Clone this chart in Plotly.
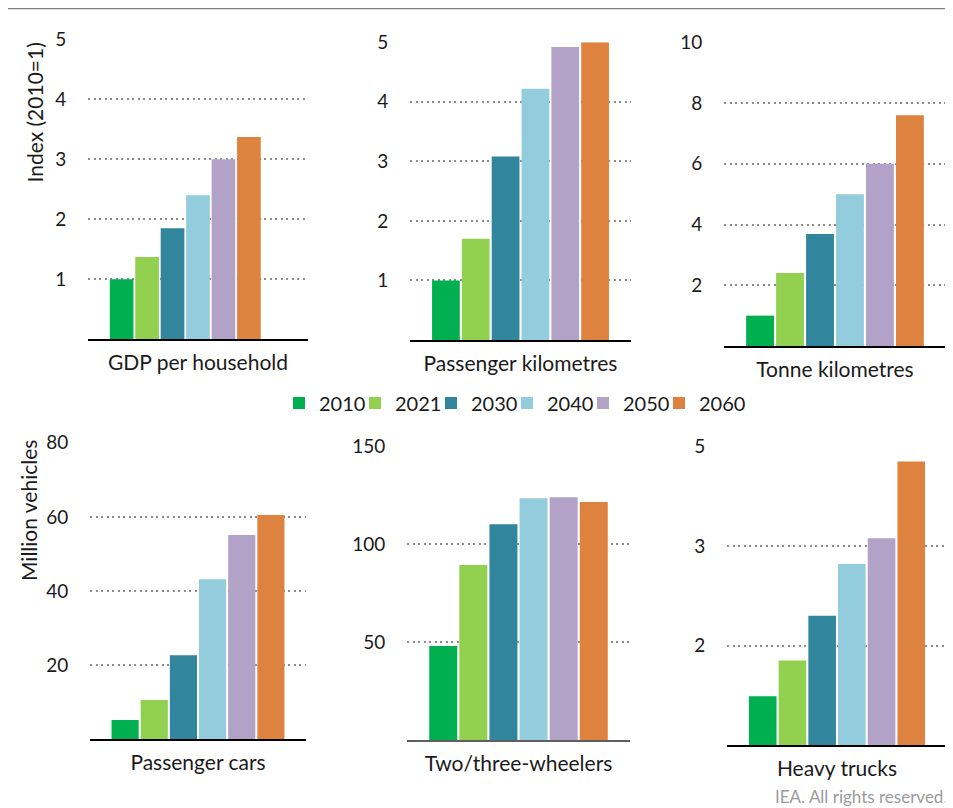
import plotly.graph_objs as go

# Years / series
years = ['2010', '2021', '2030', '2040', '2050', '2060']
colors = ['#00B050', '#92D050', '#31859C', '#93CDDD', '#B3A2C7', '#DD833F']

# Panel names
panels = [
    'GDP per household', 'Passenger kilometres', 'Tonne kilometres',
    'Passenger cars', 'Two/three-wheelers', 'Heavy trucks',
]

# Values per panel, one per year
gdp_household = [1.0, 1.37, 1.85, 2.4, 3.0, 3.37]
passenger_km = [1.0, 1.7, 3.08, 4.22, 4.92, 5.0]
tonne_km = [1.0, 2.4, 3.69, 5.0, 6.0, 7.6]
passenger_cars = [5.2, 10.6, 22.7, 43.2, 55.1, 60.5]
two_three_wheelers = [48.1, 89.5, 110.4, 123.7, 124.2, 121.7]
heavy_trucks = [0.49, 0.85, 1.3, 1.82, 2.08, 2.85]

# Axis ticks per panel
ticks_gdp = [1, 2, 3, 4, 5]
ticks_pkm = [1, 2, 3, 4, 5]
ticks_tkm = [2, 4, 6, 8, 10]
ticks_cars = [20, 40, 60, 80]
ticks_2w = [50, 100, 150]
ticks_trucks = [1, 2, 3]
ticktext_trucks = ['2', '3', '5']

# page body has an 8px margin, so the figure is made 8px smaller
# and all positions below (given in window pixels) are shifted back
OFF = 8
W, H = 953 - OFF, 808 - OFF
FONT = 'Lato'
TXT = '#1a1a1a'


def px(x):
    return (x - OFF) / W


def py(y):
    return 1 - (y - OFF) / H


specs = [
    # values, ticks, ticktext, range, x px, y px, baseline colour
    (gdp_household, ticks_gdp, None, [0, 5], (88, 308), (39.3, 339.3), '#000000'),
    (passenger_km, ticks_pkm, None, [0, 5], (410, 631), (42.3, 340), '#000000'),
    (tonne_km, ticks_tkm, None, [0, 10], (724, 946), (42.3, 346), '#000000'),
    (passenger_cars, ticks_cars, None, [0, 80], (90, 306), (442.7, 739.3), '#000000'),
    (two_three_wheelers, ticks_2w, None, [0, 150], (407, 630), (446.7, 740), '#5f5f5f'),
    (heavy_trucks, ticks_trucks, ticktext_trucks, [0, 3], (727, 947), (446.7, 745), '#000000'),
]

fig = go.Figure()
layout = {}

for p, (vals, tv, tt, rng, xs, ys, base) in enumerate(specs):
    n = '' if p == 0 else str(p + 1)
    for i, yr in enumerate(years):
        fig.add_trace(go.Bar(
            x = [panels[p]],
            y = [vals[i]],
            name = yr,
            legendgroup = yr,
            showlegend = p == 0,
            marker_color = colors[i],
            marker_line_width = 0,
            xaxis = 'x' + n,
            yaxis = 'y' + n,
            hoverinfo = 'name+y',
        ))
    layout['xaxis' + n] = dict(
        domain = [px(xs[0]), px(xs[1])],
        anchor = 'y' + n,
        showline = True,
        linecolor = base,
        linewidth = 1.6,
        showgrid = False,
        ticks = 'outside',
        ticklen = 4,
        tickcolor = 'rgba(0,0,0,0)',
        tickfont = dict(size = 21, color = TXT, family = FONT),
    )
    layout['yaxis' + n] = dict(
        domain = [py(ys[1]), py(ys[0])],
        anchor = 'x' + n,
        range = rng,
        tickvals = tv,
        ticktext = tt if tt else [str(v) for v in tv],
        showgrid = True,
        gridcolor = '#8c8c8c',
        gridwidth = 1.7,
        griddash = '2px,3.5px',
        zeroline = False,
        showline = False,
        ticks = 'outside',
        ticklen = 17,
        tickcolor = 'rgba(0,0,0,0)',
        tickfont = dict(size = 19, color = TXT, family = FONT),
    )

# empty legend entry so the last (narrow) legend item is not clipped
fig.add_trace(go.Bar(
    x = [None], y = [None], name = ' ', showlegend = True,
    marker_color = 'rgba(0,0,0,0)', marker_line_width = 0,
    opacity = 0, hoverinfo = 'skip',
))

fig.update_layout(
    width = W,
    height = H,
    margin = dict(l = 0, r = 0, t = 0, b = 0, autoexpand = False),
    paper_bgcolor = 'white',
    plot_bgcolor = 'white',
    barmode = 'group',
    bargap = 0.19,
    bargroupgap = 0.07,
    font = dict(family = FONT, color = TXT),
    legend = dict(
        orientation = 'h',
        x = px(279),
        y = py(403),
        xanchor = 'left',
        yanchor = 'middle',
        font = dict(size = 20, color = TXT, family = FONT),
        itemwidth = 30,
        entrywidth = 31,
        entrywidthmode = 'pixels',
        itemclick = False,
        itemdoubleclick = False,
    ),
    shapes = [dict(
        type = 'line', xref = 'paper', yref = 'paper',
        x0 = px(8), x1 = 1, y0 = py(8), y1 = py(8),
        line = dict(color = '#808080', width = 2.4),
    )],
    annotations = [
        dict(text = 'Index (2010=1)', textangle = -90, showarrow = False,
             xref = 'paper', yref = 'paper', x = px(34.5), y = py(113),
             xanchor = 'center', yanchor = 'middle',
             font = dict(size = 21, color = TXT, family = FONT)),
        dict(text = 'Million vehicles', textangle = -90, showarrow = False,
             xref = 'paper', yref = 'paper', x = px(28), y = py(511),
             xanchor = 'center', yanchor = 'middle',
             font = dict(size = 21, color = TXT, family = FONT)),
        dict(text = 'IEA. All rights reserved.', showarrow = False,
             xref = 'paper', yref = 'paper', x = px(949), y = py(796),
             xanchor = 'right', yanchor = 'middle',
             font = dict(size = 17, color = '#9b9b9b', family = FONT)),
    ],
)
fig.update_layout(layout)

fig.write_html("out.html")
